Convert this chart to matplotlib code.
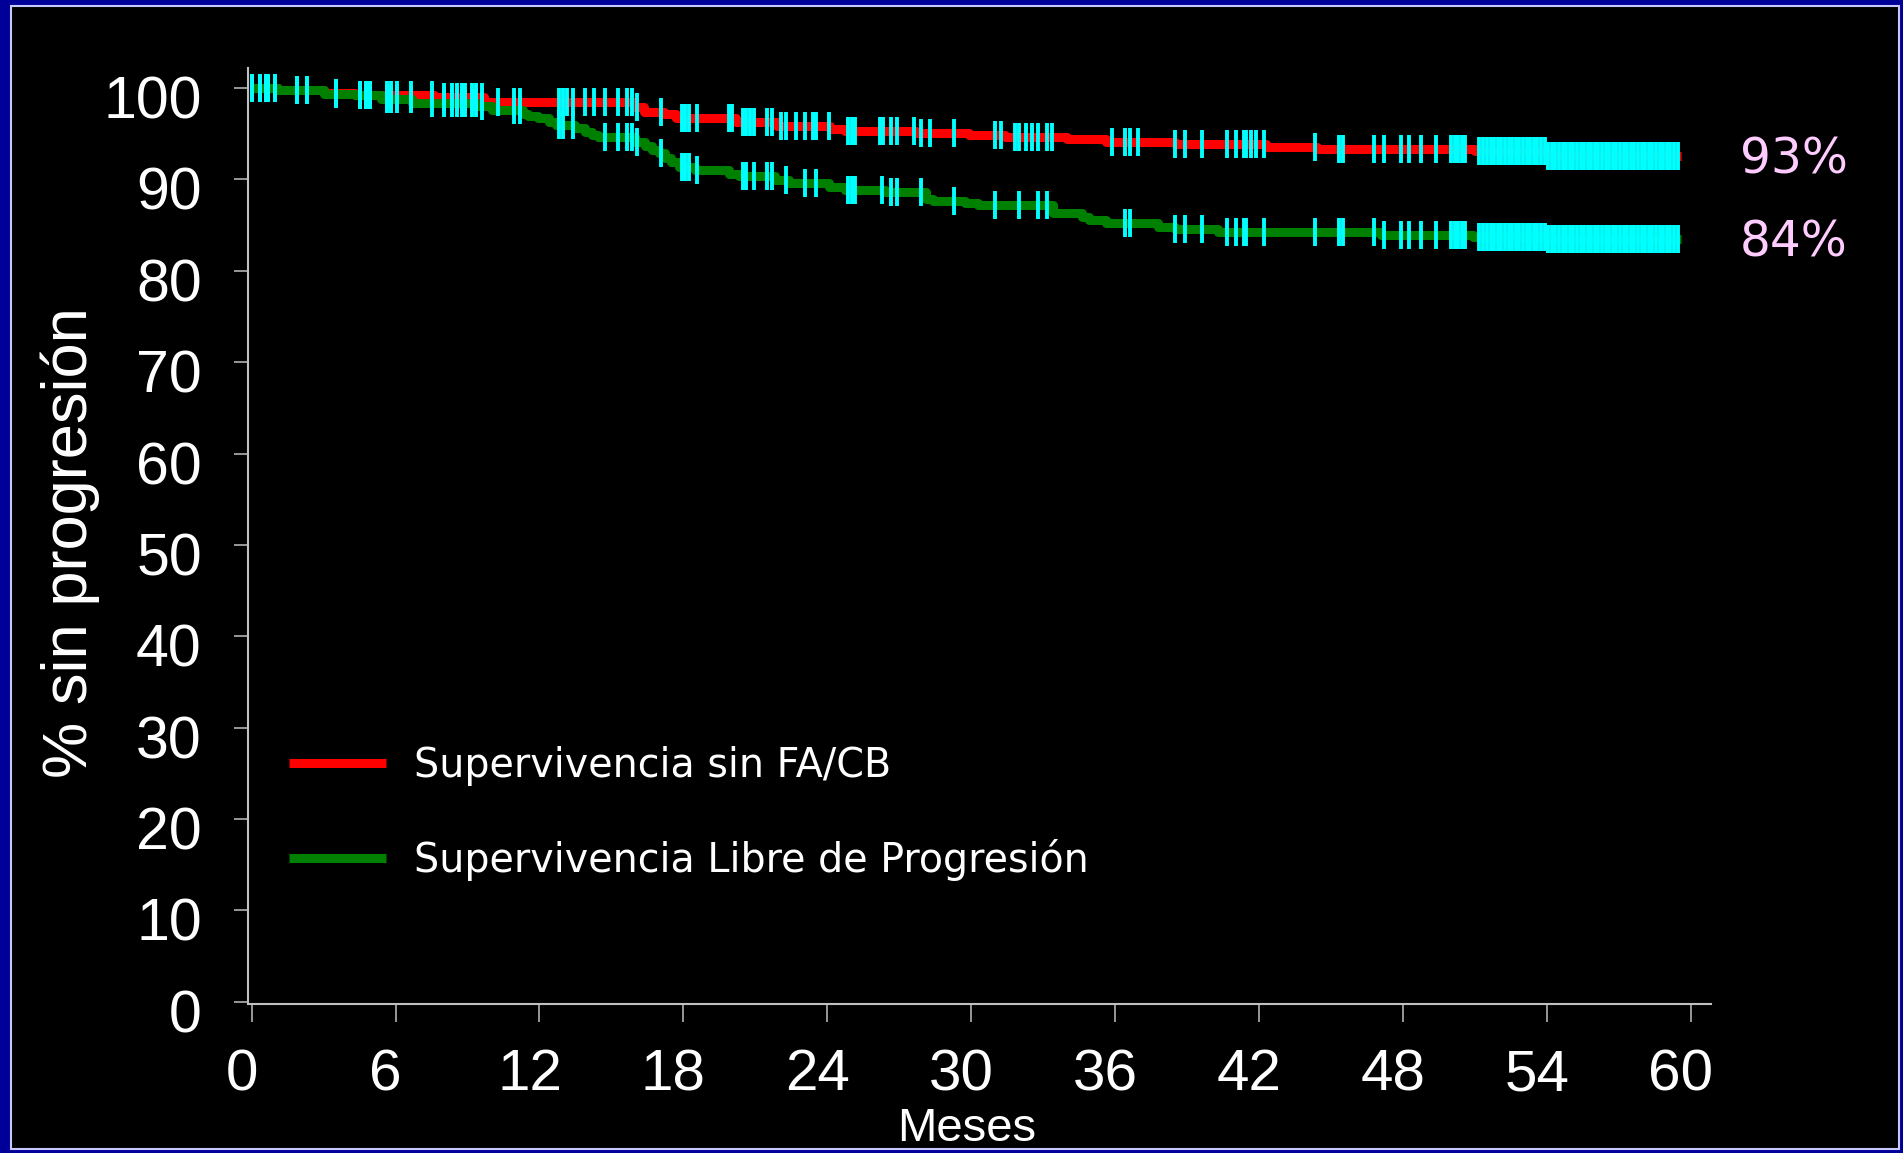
import matplotlib
matplotlib.use("Agg")

import matplotlib.pyplot as plt
import matplotlib.transforms as mtransforms
import numpy as np
from matplotlib.patches import Rectangle

plt.rcParams["font.family"] = ["Liberation Sans", "DejaVu Sans"]

# Kaplan-Meier steps: time (months) where the estimate drops, and the value after the drop (%)
fa_cb_times = [0, 1.1, 3.0, 4.3, 7.6, 9.7, 15.95, 16.35, 17.2, 17.7, 20.2, 21.9, 24.1, 24.75,
               27.7, 29.9, 31.4, 34.0, 35.6, 38.5, 42.3, 44.4, 51.0, 54.0]
fa_cb_surv = [100, 99.8, 99.5, 99.3, 99.0, 98.5, 97.9, 97.4, 97.2, 96.7, 96.3, 95.9, 95.5, 95.3,
              95.1, 94.85, 94.6, 94.4, 94.1, 93.9, 93.6, 93.3, 93.1, 92.6]

slp_times = [0, 1.1, 3.0, 4.3, 5.4, 6.7, 9.4, 10.0, 11.3, 11.5, 11.95, 12.4, 12.7, 13.5, 13.9,
             14.2, 14.45, 16.0, 16.4, 16.7, 17.0, 17.25, 17.5, 17.8, 18.5, 19.9, 20.3, 21.8,
             22.4, 24.05, 24.75, 26.4, 28.1, 28.4, 29.75, 30.3, 33.4, 34.6, 34.9, 35.6, 37.8,
             38.5, 40.3, 47.1, 50.9, 54.0]
slp_surv = [100, 99.8, 99.4, 99.2, 98.8, 98.4, 98.0, 97.6, 97.2, 96.9, 96.7, 96.3, 95.95, 95.6,
            95.2, 94.9, 94.6, 94.1, 93.65, 93.2, 92.85, 92.3, 91.9, 91.4, 91.0, 90.6, 90.4, 89.9,
            89.6, 89.2, 88.8, 88.6, 87.9, 87.6, 87.4, 87.2, 86.3, 85.9, 85.6, 85.2, 84.8,
            84.6, 84.3, 83.9, 83.7, 83.5]

FOLLOWUP_END = 59.6

# censored patients (months)
censor_early = [0.03, 0.33, 0.58, 0.67, 0.96, 1.88, 2.3, 3.5, 4.5, 4.77, 4.92, 5.65, 5.8, 6.06,
                6.65, 7.5, 8.02, 8.37, 8.55, 8.75, 8.91, 9.17, 9.34, 9.6]
censor_late = [51.35, 51.5, 51.65, 51.8, 51.95, 52.1, 52.25, 52.4, 52.55, 52.7, 52.85, 53.0,
               53.15, 53.3, 53.45, 53.6, 53.75, 53.9, 54.05, 54.2, 54.35, 54.5, 54.65, 54.8,
               54.95, 55.1, 55.25, 55.4, 55.55, 55.7, 55.85, 56.0, 56.15, 56.3, 56.45, 56.6,
               56.75, 56.9, 57.05, 57.2, 57.35, 57.5, 57.65, 57.8, 57.95, 58.1, 58.25, 58.4,
               58.55, 58.7, 58.85, 59.0, 59.15, 59.3, 59.45]
fa_cb_censor = [10.28, 10.93, 11.2, 12.8, 12.98, 13.15, 13.4, 13.9, 14.27, 14.73, 15.27, 15.65,
                15.87, 16.05, 17.05, 17.94, 18.08, 18.22, 18.58, 19.9, 20.02, 20.5, 20.63,
                20.79, 20.93, 21.5, 21.7, 22.08, 22.28, 22.68, 23.07, 23.4, 23.54, 24.08,
                24.87, 25.03, 25.17, 26.18, 26.33, 26.64, 26.92, 27.6, 27.92, 28.28, 29.27,
                31.0, 31.23, 31.84, 32.0, 32.27, 32.55, 32.78, 33.15, 33.38, 35.88, 36.43,
                36.6, 36.97, 38.5, 38.93, 39.6, 40.68, 41.05, 41.37, 41.47, 41.65, 41.86, 42.2,
                44.35, 45.32, 45.5, 46.8, 47.2, 47.93, 48.25, 48.73, 49.37, 50.0, 50.15, 50.3,
                50.45, 50.6, 51.15]
slp_censor = [10.93, 11.2, 12.8, 12.98, 13.4, 14.73, 15.27, 15.65, 15.87, 16.05, 17.05, 17.94,
              18.08, 18.22, 18.58, 20.5, 20.63, 20.93, 21.5, 21.7, 22.28, 23.07, 23.54, 24.87,
              25.03, 25.17, 26.3, 26.64, 26.92, 27.92, 29.27, 31.0, 32.0, 32.78, 33.15, 36.43,
              36.6, 38.5, 38.93, 39.6, 40.68, 41.05, 41.37, 41.47, 42.2, 44.35, 45.32, 45.5,
              46.8, 47.2, 47.93, 48.25, 48.73, 49.37, 50.0, 50.15, 50.3, 50.45, 50.6, 51.15]

LABELS = ["Supervivencia sin FA/CB", "Supervivencia Libre de Progresión"]
COLORS = ["#ff0000", "#008000"]
CENSOR_COLOR = "#00ffff"
PCT_COLOR = "#ffccff"
AXIS_COLOR = "#c0c0c0"


def km_step(ax, times, surv, color):
    t = np.append(times, FOLLOWUP_END)
    s = np.append(surv, surv[-1])
    line, = ax.step(t, s, where="post", color=color, lw=6.5, solid_capstyle="butt")
    return line


def censor_marks(ax, times, surv, censor):
    idx = np.searchsorted(times, censor, side="right") - 1
    ax.plot(censor, np.asarray(surv)[idx], ls="none", marker="|", ms=19.5, mew=2.8,
            color=CENSOR_COLOR, zorder=5)


fig = plt.figure(figsize=(19.03, 11.53), dpi=100, facecolor="#000099")
fig.patches.append(Rectangle((11 / 1903, 4 / 1153), 1888 / 1903, 1143 / 1153,
                             transform=fig.transFigure, facecolor="black",
                             edgecolor="#c8c8ff", lw=1.5, zorder=-1))

ax = fig.add_axes([0.1301, 0.1292, 0.7690, 0.8118])
ax.set_zorder(1)
ax.set_facecolor("none")

red_line = km_step(ax, fa_cb_times, fa_cb_surv, COLORS[0])
green_line = km_step(ax, slp_times, slp_surv, COLORS[1])
censor_marks(ax, fa_cb_times, fa_cb_surv, censor_early + fa_cb_censor + censor_late)
censor_marks(ax, slp_times, slp_surv, censor_early + slp_censor + censor_late)

# 5-year estimates next to the curve ends
pct_shift = mtransforms.ScaledTranslation(0, -0.04, fig.dpi_scale_trans)
for surv in (fa_cb_surv, slp_surv):
    ax.text(62.05, surv[-1], f"{surv[-1]:.0f}%", color=PCT_COLOR, fontsize=35,
            family="DejaVu Sans", ha="left", va="center", clip_on=False,
            transform=ax.transData + pct_shift)

ax.set_xlim(-0.17, 60.84)
ax.set_ylim(-0.27, 102.2)
ax.set_xticks(range(0, 61, 6))
ax.set_yticks(range(0, 101, 10))

for side in ("top", "right"):
    ax.spines[side].set_visible(False)
for side in ("left", "bottom"):
    ax.spines[side].set_color(AXIS_COLOR)
    ax.spines[side].set_linewidth(1.5)

ax.tick_params(axis="x", length=13, width=1.1, color=AXIS_COLOR, pad=18.7,
               labelsize=42, labelcolor="white")
ax.tick_params(axis="y", length=10, width=1.1, color=AXIS_COLOR, pad=23,
               labelsize=42.5, labelcolor="white")

shift_x = mtransforms.ScaledTranslation(-0.10, 0, fig.dpi_scale_trans)
shift_y = mtransforms.ScaledTranslation(0, -0.09, fig.dpi_scale_trans)
for lab in ax.get_xticklabels():
    lab.set_transform(lab.get_transform() + shift_x)
for lab in ax.get_yticklabels():
    lab.set_transform(lab.get_transform() + shift_y)

ax.set_xlabel("Meses", fontsize=34, color="white", va="center")
ax.xaxis.set_label_coords(0.4916, -0.133)
ax.set_ylabel("% sin progresión", fontsize=45.5, color="white", va="center", ha="center")
ax.yaxis.set_label_coords(-0.121, 0.4925)

ax.legend([red_line, green_line], LABELS, loc="center left", bbox_to_anchor=(0.028, 0.2035),
          frameon=False, prop={"family": "DejaVu Sans", "size": 28.5}, labelcolor="white",
          handlelength=2.47, handletextpad=0.71, labelspacing=1.33, borderpad=0,
          borderaxespad=0)

fig.savefig("out.png", dpi=100, facecolor=fig.get_facecolor())
